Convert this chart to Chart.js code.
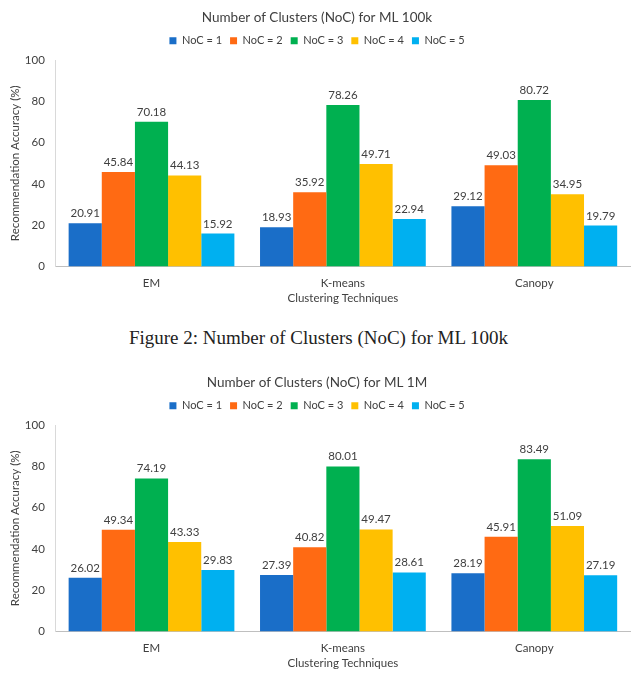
<!DOCTYPE html>
<html>
<head>
<meta charset="utf-8">
<script src="https://cdn.jsdelivr.net/npm/chart.js@4"></script>
<style>
  body { margin: 0; background: #fff; width: 637px; height: 683px; position: relative; overflow: hidden; }
  .box { position: absolute; left: 0; width: 637px; height: 314px; }
  #caption { position: absolute; left: 0; width: 637px; top: 327px; text-align: center;
    font-family: "Liberation Serif", "DejaVu Serif", serif; font-size: 19px; color: #222; }
</style>
</head>
<body>
<div class="box" style="top:0"><canvas id="c100k"></canvas></div>
<div id="caption">Figure 2: Number of Clusters (NoC) for ML 100k</div>
<div class="box" style="top:365px"><canvas id="c1m"></canvas></div>
<script>
const techniques = ['EM', 'K-means', 'Canopy'];
const nocLabels = ['NoC = 1', 'NoC = 2', 'NoC = 3', 'NoC = 4', 'NoC = 5'];
const nocColors = ['#1a6ec8', '#ff6a13', '#00b050', '#ffc000', '#00b0f0'];

// ML 100k, per NoC across EM / K-means / Canopy
const ml100k_noc1 = [20.91, 18.93, 29.12];
const ml100k_noc2 = [45.84, 35.92, 49.03];
const ml100k_noc3 = [70.18, 78.26, 80.72];
const ml100k_noc4 = [44.13, 49.71, 34.95];
const ml100k_noc5 = [15.92, 22.94, 19.79];

// ML 1M
const ml1m_noc1 = [26.02, 27.39, 28.19];
const ml1m_noc2 = [49.34, 40.82, 45.91];
const ml1m_noc3 = [74.19, 80.01, 83.49];
const ml1m_noc4 = [43.33, 49.47, 51.09];
const ml1m_noc5 = [29.83, 28.61, 27.19];

const yTicks = [0, 20, 40, 60, 80, 100];
const FONT = 'Lato, "Open Sans", sans-serif';
const TXT = '#404040';

// value labels above bars
const valueLabels = {
  id: 'valueLabels',
  afterDatasetsDraw(chart) {
    const ctx = chart.ctx;
    ctx.save();
    ctx.font = '11.5px ' + FONT;
    ctx.fillStyle = TXT;
    ctx.textAlign = 'center';
    ctx.textBaseline = 'bottom';
    chart.data.datasets.forEach((ds, i) => {
      chart.getDatasetMeta(i).data.forEach((bar, j) => {
        ctx.fillText(ds.data[j].toFixed(2), bar.x, bar.y - 4);
      });
    });
    ctx.restore();
  }
};

// a bit more room under the legend
const legendGap = {
  id: 'legendGap',
  beforeInit(chart) {
    const fit = chart.legend.fit;
    chart.legend.fit = function () { fit.call(this); this.height += 4; };
  }
};

function makeChart(id, title, series) {
  new Chart(document.getElementById(id), {
    type: 'bar',
    data: {
      labels: techniques,
      datasets: series.map((d, i) => ({
        label: nocLabels[i], data: d, backgroundColor: nocColors[i],
        categoryPercentage: 0.866, barPercentage: 1.0
      }))
    },
    options: {
      responsive: true, maintainAspectRatio: false, animation: false,
      layout: { padding: { left: 4, right: 7, top: 4, bottom: 9 } },
      scales: {
        x: {
          grid: { display: false },
          border: { color: '#bfbfbf' },
          ticks: { color: TXT, font: { family: FONT, size: 11.5 }, padding: 2 },
          title: { display: true, text: 'Clustering Techniques', color: TXT,
                   font: { family: FONT, size: 11.5 }, padding: { top: -1, bottom: 0 } }
        },
        y: {
          min: 0, max: 100,
          afterBuildTicks: ax => { ax.ticks = yTicks.map(v => ({ value: v })); },
          grid: { display: false },
          border: { color: '#d9d9d9' },
          ticks: { color: TXT, font: { family: FONT, size: 11.5 }, padding: 3 },
          title: { display: true, text: 'Recommendation Accuracy (%)', color: TXT,
                   font: { family: FONT, size: 11.5 }, padding: { top: 4, bottom: 0 } }
        }
      },
      plugins: {
        title: { display: true, text: title, color: TXT,
                 font: { family: FONT, size: 13.5, weight: 'normal' }, padding: { top: 6, bottom: 1 } },
        legend: {
          labels: { boxWidth: 7, boxHeight: 7, color: TXT, padding: 8,
                    font: { family: FONT, size: 11 } }
        },
        tooltip: { enabled: false }
      }
    },
    plugins: [valueLabels, legendGap]
  });
}

makeChart('c100k', 'Number of Clusters (NoC) for ML 100k',
  [ml100k_noc1, ml100k_noc2, ml100k_noc3, ml100k_noc4, ml100k_noc5]);
makeChart('c1m', 'Number of Clusters (NoC) for ML 1M',
  [ml1m_noc1, ml1m_noc2, ml1m_noc3, ml1m_noc4, ml1m_noc5]);
</script>
</body>
</html>
